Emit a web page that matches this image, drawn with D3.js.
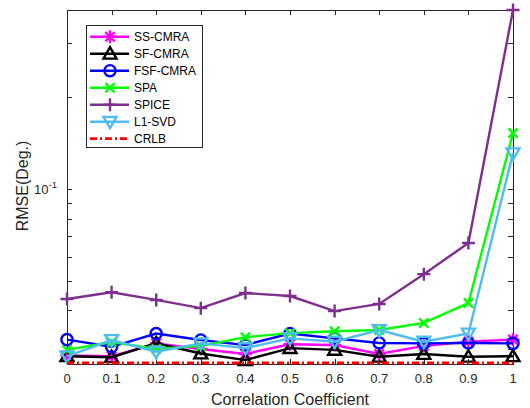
<!DOCTYPE html>
<html>
<head>
<meta charset="utf-8">
<script src="https://cdn.jsdelivr.net/npm/d3@7"></script>
<style>
  html, body { margin: 0; padding: 0; background: #fff; }
  svg { display: block; font-family: "Liberation Sans", Arial, Helvetica, sans-serif; }
</style>
</head>
<body>
<svg id="chart" width="530" height="408"></svg>
<script>
// Correlation coefficient (x) and RMSE in degrees for each estimator
const coeffs = [0, 0.1, 0.2, 0.3, 0.4, 0.5, 0.6, 0.7, 0.8, 0.9, 1];
const xTickLabels = ["0", "0.1", "0.2", "0.3", "0.4", "0.5", "0.6", "0.7", "0.8", "0.9", "1"];

const ssCmra  = [0.0285, 0.0283, 0.0312, 0.0299, 0.0288, 0.0310, 0.0308, 0.0288, 0.0306, 0.0316, 0.0321];
const sfCmra  = [0.0283, 0.0281, 0.0312, 0.0289, 0.0275, 0.0301, 0.0297, 0.0282, 0.0288, 0.0282, 0.0283];
const fsfCmra = [0.0321, 0.0304, 0.0336, 0.0320, 0.0308, 0.0336, 0.0324, 0.0313, 0.0312, 0.0313, 0.0312];
const spa     = [0.0297, 0.0315, 0.0299, 0.0306, 0.0327, 0.0337, 0.0342, 0.0345, 0.0364, 0.0423, 0.1526];
const spice   = [0.0436, 0.0459, 0.0433, 0.0407, 0.0456, 0.0446, 0.0398, 0.0420, 0.0526, 0.0665, 0.386];
const l1Svd   = [0.0283, 0.0320, 0.0293, 0.0312, 0.0301, 0.0324, 0.0316, 0.0345, 0.0316, 0.0336, 0.131];
const crlb    = [0.0269, 0.0269, 0.0269, 0.0269, 0.0269, 0.0269, 0.0269, 0.0269, 0.0269, 0.0269, 0.0269];

const seriesNames = ["SS-CMRA", "SF-CMRA", "FSF-CMRA", "SPA", "SPICE", "L1-SVD", "CRLB"];
const yMinorTicks = [0.03, 0.04, 0.05, 0.06, 0.07, 0.08, 0.09, 0.2, 0.3];
const yMajorTicks = [0.1];

const series = [
  { name: seriesNames[0], values: ssCmra,  color: "#ff00ff", marker: "asterisk" },
  { name: seriesNames[1], values: sfCmra,  color: "#000000", marker: "triUp" },
  { name: seriesNames[2], values: fsfCmra, color: "#0000ff", marker: "circle" },
  { name: seriesNames[3], values: spa,     color: "#00ff00", marker: "cross" },
  { name: seriesNames[4], values: spice,   color: "#7e2f8e", marker: "plus" },
  { name: seriesNames[5], values: l1Svd,   color: "#4dbeee", marker: "triDown" },
  { name: seriesNames[6], values: crlb,    color: "#ff0000", marker: null, dash: "7,3,2,3" }
];

const svg = d3.select("#chart");
const axisColor = "#262626";
const plot = { left: 67, right: 513, top: 10, bottom: 364 };

const x = d3.scaleLinear().domain([0, 1]).range([plot.left, plot.right]);
const y = d3.scaleLog().domain([0.0267, 0.386]).range([plot.bottom, plot.top]);

// Marker shapes as path strings centred on (0,0)
function markerPath(type) {
  const s = 6.5;
  switch (type) {
    case "asterisk": {
      const d = s * 0.72;
      return `M${-s},0L${s},0M0,${-s}L0,${s}M${-d},${-d}L${d},${d}M${-d},${d}L${d},${-d}`;
    }
    case "triUp":   return `M0,${-s}L${s},${s * 0.75}L${-s},${s * 0.75}Z`;
    case "triDown": return `M0,${s}L${s},${-s * 0.75}L${-s},${-s * 0.75}Z`;
    case "circle":  { const p = d3.path(); p.arc(0, 0, 5.6, 0, 2 * Math.PI); return p.toString(); }
    case "cross":   { const d = 4.6; return `M${-d},${-d}L${d},${d}M${-d},${d}L${d},${-d}`; }
    case "plus":    return `M${-s},0L${s},0M0,${-s}L0,${s}`;
  }
  return "";
}

// Inward ticks on all four sides
const tickLen = 5;
const tickG = svg.append("g").attr("stroke", axisColor).attr("stroke-width", 1);
coeffs.forEach(c => {
  const px = Math.round(x(c)) + 0.5;
  tickG.append("line").attr("x1", px).attr("x2", px).attr("y1", plot.bottom).attr("y2", plot.bottom - tickLen);
  tickG.append("line").attr("x1", px).attr("x2", px).attr("y1", plot.top).attr("y2", plot.top + tickLen);
});
yMinorTicks.concat(yMajorTicks).forEach(v => {
  const py = Math.round(y(v)) + 0.5;
  tickG.append("line").attr("x1", plot.left).attr("x2", plot.left + tickLen).attr("y1", py).attr("y2", py);
  tickG.append("line").attr("x1", plot.right).attr("x2", plot.right - tickLen).attr("y1", py).attr("y2", py);
});

// Axes box
svg.append("rect")
  .attr("x", plot.left + 0.5).attr("y", plot.top + 0.5)
  .attr("width", plot.right - plot.left).attr("height", plot.bottom - plot.top)
  .attr("fill", "none").attr("stroke", axisColor).attr("stroke-width", 1);

// Series lines and markers
const lineW = 2.4;
const line = d3.line().x((d, i) => x(coeffs[i])).y(d => y(d));
const dataG = svg.append("g");
series.forEach(s => {
  dataG.append("path")
    .datum(s.values)
    .attr("d", line)
    .attr("fill", "none")
    .attr("stroke", s.color)
    .attr("stroke-width", s.dash ? 2.8 : lineW)
    .attr("stroke-dasharray", s.dash || null);
  if (s.marker) {
    dataG.selectAll(null)
      .data(s.values)
      .enter().append("path")
      .attr("transform", (d, i) => `translate(${x(coeffs[i])},${y(d)})`)
      .attr("d", markerPath(s.marker))
      .attr("fill", "none")
      .attr("stroke", s.color)
      .attr("stroke-width", lineW);
  }
});

// Tick labels
const labelG = svg.append("g").attr("fill", axisColor).attr("font-size", 13);
coeffs.forEach((c, i) => {
  labelG.append("text")
    .attr("x", x(c)).attr("y", 383)
    .attr("text-anchor", "middle")
    .text(xTickLabels[i]);
});
yMajorTicks.forEach(v => {
  const t = labelG.append("text")
    .attr("x", 57).attr("y", y(v) + 5)
    .attr("text-anchor", "end");
  t.append("tspan").text("10");
  t.append("tspan").attr("font-size", 9.5).attr("dy", -6).text("-1");
});

// Axis titles
svg.append("text")
  .attr("x", 290).attr("y", 405)
  .attr("text-anchor", "middle")
  .attr("font-size", 16)
  .attr("fill", axisColor)
  .text("Correlation Coefficient");
svg.append("text")
  .attr("transform", "translate(28,186) rotate(-90)")
  .attr("text-anchor", "middle")
  .attr("font-size", 16)
  .attr("fill", axisColor)
  .text("RMSE(Deg.)");

// Legend
const legend = svg.append("g");
legend.append("rect")
  .attr("x", 86.5).attr("y", 25.5).attr("width", 116).attr("height", 122)
  .attr("fill", "#fff").attr("stroke", axisColor).attr("stroke-width", 1);
series.forEach((s, i) => {
  const ly = 36.7 + 17 * i;
  legend.append("line")
    .attr("x1", 90).attr("x2", 129).attr("y1", ly).attr("y2", ly)
    .attr("stroke", s.color)
    .attr("stroke-width", s.dash ? 2.8 : lineW)
    .attr("stroke-dasharray", s.dash || null);
  if (s.marker) {
    legend.append("path")
      .attr("transform", `translate(110,${ly})`)
      .attr("d", markerPath(s.marker))
      .attr("fill", "none").attr("stroke", s.color).attr("stroke-width", lineW);
  }
  legend.append("text")
    .attr("x", 134).attr("y", ly + 4.5)
    .attr("font-size", 12)
    .attr("fill", "#000")
    .text(s.name);
});
</script>
</body>
</html>
